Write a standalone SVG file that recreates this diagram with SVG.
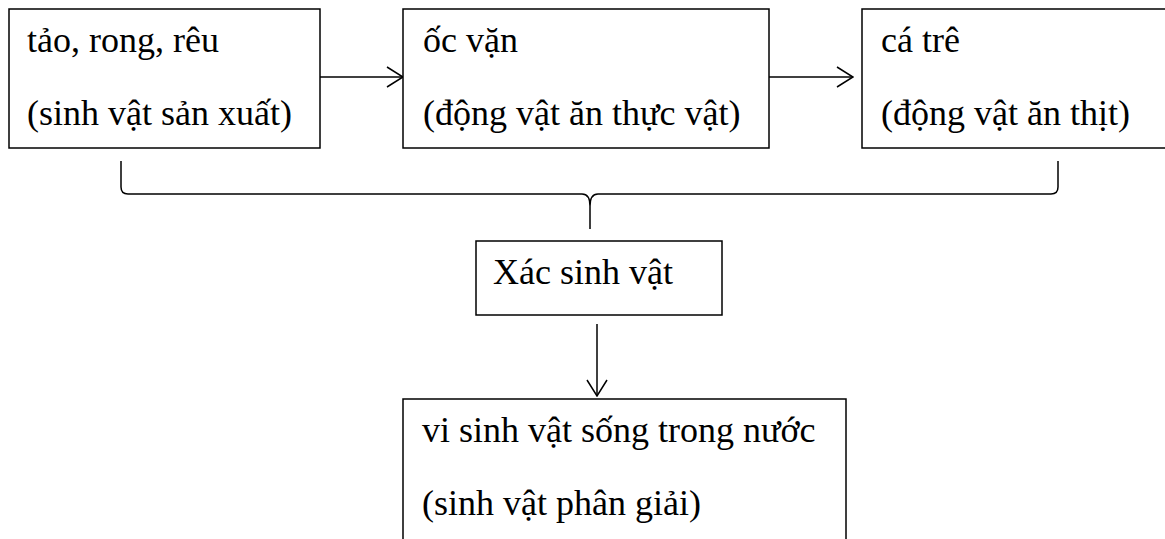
<svg xmlns="http://www.w3.org/2000/svg" width="1165" height="539" viewBox="0 0 1165 539">
<defs>
<style>
.box{fill:#fff;stroke:#000;stroke-width:1.5}
.t{font-family:"Liberation Serif","Times New Roman",serif;font-size:36px;fill:#000}
.c{fill:none;stroke:#000;stroke-width:1.5}
</style>
<marker id="ah" viewBox="0 0 20 24" refX="19" refY="12" markerWidth="20" markerHeight="24" markerUnits="userSpaceOnUse" orient="auto">
<path d="M3,2 L19,12 L3,22" fill="none" stroke="#000" stroke-width="1.5"/>
</marker>
</defs>
<rect width="1165" height="539" fill="#fff"/>
<g id="connectors">
<line class="c" x1="320" y1="77" x2="403" y2="77" marker-end="url(#ah)"/>
<line class="c" x1="769" y1="77" x2="853" y2="77" marker-end="url(#ah)"/>
<path class="c" d="M121,161 L121,187 Q121,194 128,194 L582,194 Q590,194 590,206 L590,229 M590,206 Q590,194 598,194 L1051,194 Q1058,194 1058,187 L1058,161"/>
<line class="c" x1="597" y1="324" x2="597" y2="396" marker-end="url(#ah)"/>
</g>
<g id="node-producer">
<rect class="box" x="9" y="9" width="311" height="139"/>
<text class="t" x="27" y="52">tảo, rong, rêu</text>
<text class="t" x="27" y="125">(sinh vật sản xuất)</text>
</g>
<g id="node-herbivore">
<rect class="box" x="403" y="9" width="366" height="139"/>
<text class="t" x="423" y="52">ốc vặn</text>
<text class="t" x="423" y="125">(động vật ăn thực vật)</text>
</g>
<g id="node-carnivore">
<rect class="box" x="862" y="9" width="320" height="139"/>
<text class="t" x="881" y="52">cá trê</text>
<text class="t" x="881" y="125">(động vật ăn thịt)</text>
</g>
<g id="node-corpse">
<rect class="box" x="476" y="241" width="246" height="74"/>
<text class="t" x="493" y="284">Xác sinh vật</text>
</g>
<g id="node-decomposer">
<rect class="box" x="403" y="399" width="443" height="160"/>
<text class="t" x="422" y="442">vi sinh vật sống trong nước</text>
<text class="t" x="422" y="515">(sinh vật phân giải)</text>
</g>
</svg>
